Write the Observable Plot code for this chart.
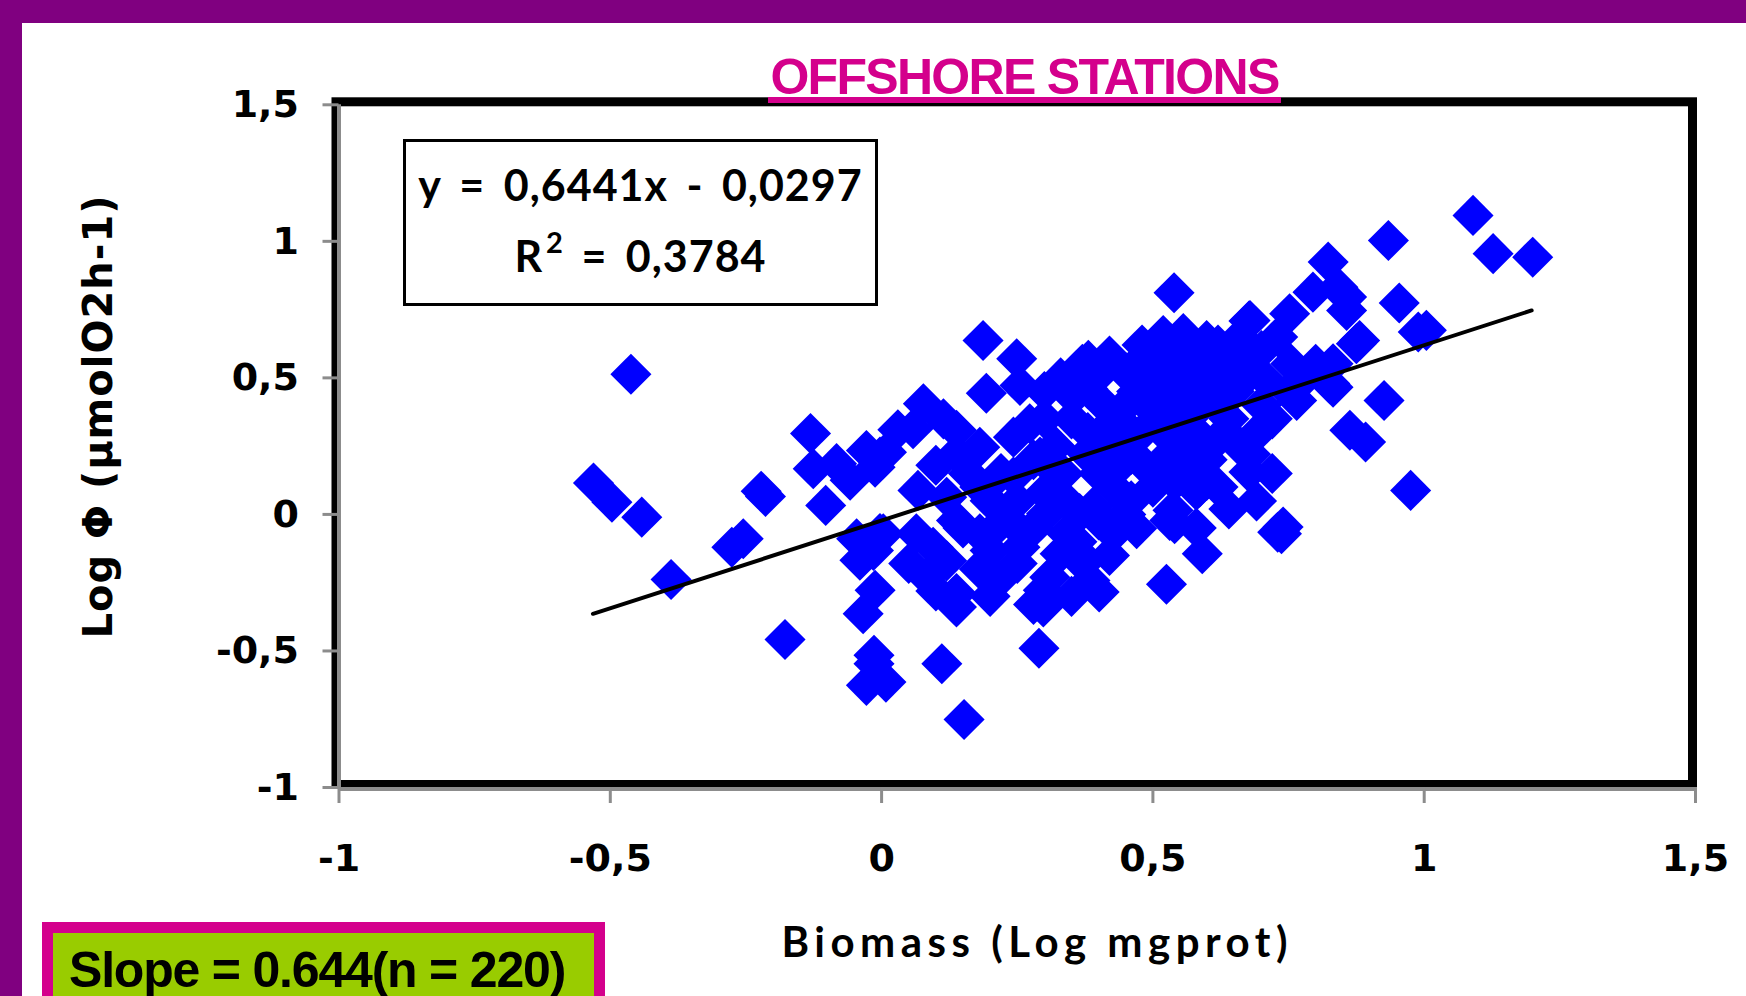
<!DOCTYPE html>
<html><head><meta charset="utf-8">
<script src="https://cdn.jsdelivr.net/npm/d3@7"></script>
<script src="https://cdn.jsdelivr.net/npm/@observablehq/plot@0.6"></script>
<style>
body{margin:0;background:#fff}
#page{position:relative;width:1746px;height:996px;overflow:hidden;background:#fff}
#chart{position:absolute;left:0;top:0}
.band{position:absolute;background:#800080}
#title{position:absolute;left:768px;top:52px;width:513px;text-align:center;white-space:nowrap;font:bold 50px "Liberation Sans",Arial,sans-serif;line-height:50px;letter-spacing:-1.7px;color:#d4008c}
#titleLine{position:absolute;left:768px;top:97px;width:513px;height:6px;background:#d4008c}
#eqbox{position:absolute;left:403px;top:139px;width:475px;height:167px;border:3px solid #000;box-sizing:border-box;background:#fff}
.eqline{position:absolute;left:403px;width:475px;text-align:center;white-space:pre;font:bold 43px Lato,sans-serif;line-height:43px;letter-spacing:1px;word-spacing:7px;color:#000}
.eqline sup{font-size:29px;position:relative;top:-19px;vertical-align:baseline;line-height:0;margin-left:3px;letter-spacing:0}
#slopebox{position:absolute;left:42px;top:922px;width:563px;height:110px;background:#99cc00;border:11px solid #d4008c;box-sizing:border-box}
#slope{position:absolute;left:69px;top:945px;white-space:pre;font:bold 50px "Liberation Sans",Arial,sans-serif;line-height:50px;letter-spacing:-1.2px;color:#000}
</style></head><body>
<div id="page">
  <div id="chart"></div>
  <div class="band" style="left:0;top:0;width:1746px;height:23px"></div>
  <div class="band" style="left:0;top:0;width:22px;height:996px"></div>
  <div id="title">OFFSHORE STATIONS</div>
  <div id="titleLine"></div>
  <div id="eqbox"></div>
  <div class="eqline" style="top:163px">y = 0,6441x - 0,0297</div>
  <div class="eqline" style="top:234px">R<sup>2</sup> = 0,3784</div>
  <div id="slopebox"></div>
  <div id="slope">Slope = 0.644(n = 220)</div>
</div>
<script>
// Biomass (Log mgprot) and Log Φ values
const biomass = [
 -0.531,-0.497,-0.462,-0.442,-0.388,-0.276,-0.255,-0.214,-0.222,-0.178,
 -0.131,-0.126,-0.103,-0.083,-0.028,-0.012,-0.058,-0.003,0.03,-0.046,
 -0.04,-0.012,-0.003,-0.014,-0.014,-0.028,0.008,0.111,0.152,0.29,
 0.525,-0.034,0.138,0.138,0.083,0.215,0.298,0.298,0.401,0.384,
 0.371,0.31,0.329,0.261,0.20,0.095,0.064,-0.015,0.003,0.138,
 0.365,0.47,0.531,0.591,0.539,0.187,0.249,0.193,0.255,0.077,
 0.114,0.058,0.381,0.365,0.353,0.402,0.519,0.556,0.574,0.61,
 0.464,0.50,0.181,0.243,0.273,0.138,0.067,0.009,0.58,0.537,
 0.365,0.304,0.39,0.427,0.488,0.55,0.457,0.378,0.335,0.243,
 0.181,0.12,0.181,0.255,0.341,0.427,0.586,0.427,0.292,0.138,
 0.934,0.823,1.127,1.2,1.09,0.795,0.841,0.752,0.857,0.881,
 0.954,0.989,1.004,0.677,0.66,0.832,0.826,0.765,0.709,0.697,
 0.926,0.863,0.892,0.975,0.677,0.691,0.74,0.73,0.599,0.623,
 0.599,0.648,0.754,0.737,0.54,0.586,0.857,0.875,0.832,0.679,
 0.586,
 0.35,0.38,0.40,0.42,0.45,0.47,0.48,0.50,0.52,0.53,
 0.55,0.56,0.57,0.58,0.60,0.62,0.63,0.64,0.65,0.66,
 0.32,0.30,0.28,0.34,0.40,0.44,0.46,0.50,0.52,0.54,
 0.56,0.30,0.25,0.22,0.20,0.16,0.10,0.15,0.22,0.28,
 0.40,0.45,0.36,0.42,0.25,0.18,0.12,0.05,0.46,0.10,
 0.20,0.28,0.35,0.60,0.62,0.70,0.72,0.75,0.78,0.80,
 0.70,0.73,0.68,0.68,0.72,0.62,0.64,0.58,0.40,0.42,
 0.45,0.38,0.50,0.52,0.55,0.48,0.33,0.30,0.37
];
const logPhi = [
 0.115,0.045,0.513,-0.010,-0.238,-0.120,-0.089,0.066,0.085,-0.458,
 0.296,0.167,0.033,0.186,0.234,0.173,0.125,0.21,0.31,-0.089,
 -0.168,-0.278,-0.07,-0.516,-0.547,-0.626,-0.614,-0.547,-0.751,-0.49,
 -0.256,-0.364,-0.339,-0.29,-0.23,-0.242,-0.339,-0.278,-0.284,-0.242,
 -0.181,-0.23,-0.144,-0.071,-0.132,-0.12,-0.071,-0.132,-0.071,-0.022,
 0.003,-0.052,-0.022,-0.144,0.812,0.637,0.570,0.444,0.472,0.405,
 0.350,0.314,0.564,0.503,0.43,0.515,0.655,0.662,0.576,0.48,
 0.539,0.49,0.246,0.283,0.332,0.222,0.088,0.228,0.088,0.015,
 -0.144,0.003,0.027,0.1,0.173,0.246,0.308,0.222,0.149,0.137,
 0.1,0.063,-0.071,-0.12,-0.071,-0.071,0.393,0.344,0.21,0.308,
 1.003,0.924,0.955,0.942,1.095,0.814,0.832,0.735,0.747,0.637,
 0.774,0.668,0.674,0.708,0.649,0.552,0.479,0.417,0.491,0.308,
 0.417,0.308,0.265,0.088,0.155,0.049,-0.046,-0.065,0.124,0.283,
 0.637,0.576,0.552,-0.071,-0.034,0.1,0.796,0.625,0.466,0.71,
 0.588,
 0.35,0.30,0.42,0.25,0.40,0.45,0.30,0.38,0.30,0.45,
 0.35,0.50,0.42,0.30,0.20,0.40,0.50,0.35,0.45,0.25,
 0.25,0.35,0.20,0.05,0.15,0.18,0.05,0.10,0.20,0.12,
 0.15,0.08,0.05,0.15,0.05,0.15,0.18,-0.05,-0.03,-0.05,
 -0.02,0.00,-0.10,-0.15,-0.18,-0.20,-0.17,-0.18,0.22,-0.28,
 -0.30,-0.33,-0.30,0.55,0.62,0.40,0.35,0.45,0.50,0.55,
 0.60,0.65,0.52,0.22,0.15,0.10,0.02,-0.05,0.52,0.58,
 0.52,0.46,0.58,0.55,0.60,0.62,0.50,0.45,0.55
];
// trend line end points
const trendX = [-0.532, 1.198];
const trendY = [-0.364, 0.747];
const xTicks = [-1, -0.5, 0, 0.5, 1, 1.5];
const yTicks = [-1, -0.5, 0, 0.5, 1, 1.5];
const xLabel = "Biomass (Log mgprot)";
const yLabel = "Log Φ (µmolO2h-1)";

const points = biomass.map((x, i) => ({x, y: logPhi[i]}));
const trend = trendX.map((x, i) => ({x, y: trendY[i]}));
const fmt = d => String(d).replace(".", ",");

const chart = Plot.plot({
  width: 1746, height: 996,
  marginLeft: 338.5, marginRight: 51, marginTop: 104.3, marginBottom: 209,
  style: {fontFamily: "'DejaVu Sans', sans-serif", fontWeight: "bold", fontSize: "38px", color: "black", background: "transparent", overflow: "visible"},
  x: {domain: [-1, 1.5], axis: null},
  y: {domain: [-1, 1.5], axis: null},
  marks: [
    Plot.dot(points, {x: "x", y: "y", symbol: "diamond2", r: 18.5, fill: "#0000ff", stroke: "none"}),
    Plot.line(trend, {x: "x", y: "y", stroke: "black", strokeWidth: 4}),
    Plot.frame({stroke: "black", strokeWidth: 9, dx: -3, dy: -3}),
    Plot.ruleX([-1], {stroke: "#8c8c8c", strokeWidth: 4}),
    Plot.ruleY([-1], {stroke: "#8c8c8c", strokeWidth: 4, dy: 1.5}),
    Plot.axisY({ticks: yTicks, tickFormat: fmt, tickSize: 16, tickPadding: 24, stroke: "#8c8c8c", strokeWidth: 3, fill: "black", label: null}),
    Plot.axisX({ticks: xTicks, tickFormat: fmt, tickSize: 16, tickPadding: 41, stroke: "#8c8c8c", strokeWidth: 3, fill: "black", label: null}),
    Plot.text([xLabel], {text: d => d, frameAnchor: "bottom", textAnchor: "middle", dx: 20, dy: 169, fontFamily: "Lato, sans-serif", fontSize: 42, fontWeight: "bold", fill: "black"}),
    Plot.text([yLabel], {text: d => d, frameAnchor: "left", textAnchor: "middle", rotate: -90, dx: -239.6, dy: -29.6, fontFamily: "'DejaVu Sans', sans-serif", fontSize: 40, fontWeight: "bold", fill: "black"})
  ]
});
document.getElementById("chart").appendChild(chart);
// letter spacing for the axis titles
d3.select(chart).selectAll("text").filter(function() { return this.textContent === xLabel; }).style("letter-spacing", "5.5px");
d3.select(chart).selectAll("text").filter(function() { return this.textContent === yLabel; }).style("letter-spacing", "1px");
</script>
</body></html>
